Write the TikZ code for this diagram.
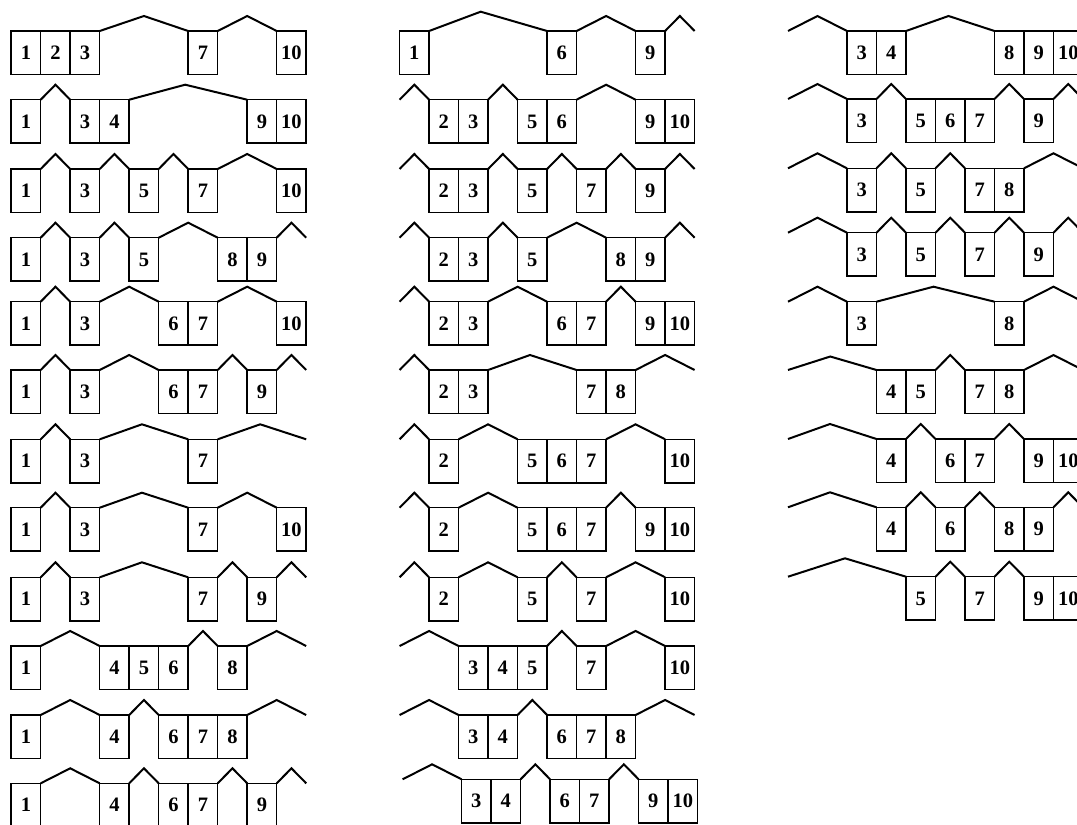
\documentclass[tikz,border=0pt]{standalone}
\usepackage{fontspec}
\setmainfont{Liberation Serif}
\newfontfamily\numfont{Liberation Serif Bold}
\tikzset{
  cellbox/.style={draw, line width=1.5pt, minimum width=29.5pt, minimum height=43.5pt,
    inner sep=0pt, outer sep=0pt, anchor=north west,
    font=\numfont\fontsize{20.5}{24}\selectfont},
  roof/.style={line width=2pt},
}
\newcommand\setroof[4]{%
  \expandafter\def\csname rdx@#1@#2\endcsname{#3}%
  \expandafter\def\csname rh@#1@#2\endcsname{#4}}
% #1 row name, #2 x of cell 1 left edge, #3 y of box tops, #4 list of cells
\newcommand\houserow[4]{%
  \foreach \cell in {#4}{
    \node[cellbox] (#1-\cell) at ({#2+(\cell-1)*29.5}, #3) {\cell};
  }
  \coordinate (#1-0) at (#2, #3);
  \coordinate (#1-11) at ({#2+295}, #3);
  \foreach \cell [remember=\cell as \prev (initially 0)] in {#4,11}{
    \pgfmathtruncatemacro\gap{\cell-\prev}
    \ifnum\gap>1
      \ifcsname rdx@#1@\cell\endcsname
        \edef\rdx{\csname rdx@#1@\cell\endcsname}%
        \edef\rh{\csname rh@#1@\cell\endcsname}%
      \else
        \def\rdx{0}\def\rh{15}%
      \fi
      \pgfmathsetmacro\xs{#2+\prev*29.5}
      \pgfmathsetmacro\xe{#2+(\cell-1)*29.5}
      \pgfmathsetmacro\xp{(\xs+\xe)/2+\rdx}
      \pgfmathsetmacro\yp{#3-\rh}
      \ifnum\prev=0 \edef\startname{#1-0}\else\edef\startname{#1-\prev.north east}\fi
      \ifnum\cell=11 \edef\endname{#1-11}\else\edef\endname{#1-\cell.north west}\fi
      \edef\tmp{\noexpand\draw[roof] (\startname) -- (\xp,\yp) -- (\endname);}%
      \tmp
    \fi
  }%
}
\begin{document}
\begin{tikzpicture}[x=1pt, y=-1pt]
\useasboundingbox (0,0) rectangle (1077,825);
\clip (0,0) rectangle (1077,825);
% overrides
\setroof{a2}{9}{-3}{15}
\setroof{a7}{7}{-2}{15}
\setroof{a7}{11}{-1.75}{15}
\setroof{a8}{7}{-2}{15}
\setroof{a9}{7}{-2}{15}
\setroof{b1}{6}{-7.4}{19.3}
\setroof{b6}{7}{-2.35}{15}
\setroof{c1}{8}{-1.7}{15}
\setroof{c5}{8}{-2}{15}
\setroof{c6}{4}{-2}{13.5}
\setroof{c7}{4}{-2.25}{15}
\setroof{c8}{4}{-2.25}{15}
\setroof{c9}{5}{-2}{18.4}
% column 1
\houserow{a1}{11.2}{31}{1,2,3,7,10}
\houserow{a2}{11.2}{99.7}{1,3,4,9,10}
\houserow{a3}{11.2}{169}{1,3,5,7,10}
\houserow{a4}{11.2}{237.7}{1,3,5,8,9}
\houserow{a5}{11.2}{301.7}{1,3,6,7,10}
\houserow{a6}{11.2}{370}{1,3,6,7,9}
\houserow{a7}{11.2}{439.3}{1,3,7}
\houserow{a8}{11.2}{507.7}{1,3,7,10}
\houserow{a9}{11.2}{577.3}{1,3,7,9}
\houserow{a10}{11.2}{646}{1,4,5,6,8}
\houserow{a11}{11.2}{715}{1,4,6,7,8}
\houserow{a12}{11.2}{783.3}{1,4,6,7,9}
% column 2
\houserow{b1}{399.6}{31}{1,6,9}
\houserow{b2}{399.6}{99.7}{2,3,5,6,9,10}
\houserow{b3}{399.6}{169}{2,3,5,7,9}
\houserow{b4}{399.6}{237.7}{2,3,5,8,9}
\houserow{b5}{399.6}{301.7}{2,3,6,7,9,10}
\houserow{b6}{399.6}{370}{2,3,7,8}
\houserow{b7}{399.6}{439.3}{2,5,6,7,10}
\houserow{b8}{399.6}{507.7}{2,5,6,7,9,10}
\houserow{b9}{399.6}{577.3}{2,5,7,10}
\houserow{b10}{399.6}{646}{3,4,5,7,10}
\houserow{b11}{399.6}{715}{3,4,6,7,8}
\houserow{b12}{402.6}{779.3}{3,4,6,7,9,10}
% column 3
\houserow{c1}{788}{31}{3,4,8,9,10}
\houserow{c2}{788}{99}{3,5,6,7,9}
\houserow{c3}{788}{168.3}{3,5,7,8}
\houserow{c4}{788}{232.7}{3,5,7,9}
\houserow{c5}{788}{301.7}{3,8}
\houserow{c6}{788}{370}{4,5,7,8}
\houserow{c7}{788}{439}{4,6,7,9,10}
\houserow{c8}{788}{507.3}{4,6,8,9}
\houserow{c9}{788}{576.7}{5,7,9,10}
\end{tikzpicture}
\end{document}
